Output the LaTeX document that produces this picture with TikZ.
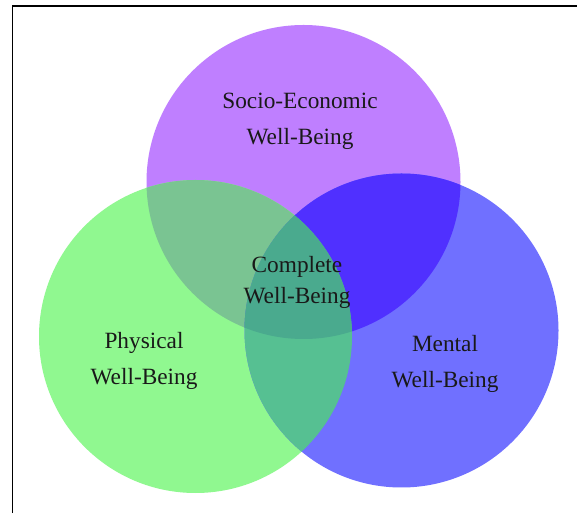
\documentclass[tikz,border=0pt]{standalone}
\usepackage{fontspec}
\setmainfont{Liberation Serif}
\definecolor{cpurple}{RGB}{191,127,255}
\definecolor{cgreen}{RGB}{144,248,144}
\definecolor{cblue}{RGB}{112,112,255}
\definecolor{cpg}{RGB}{122,196,146}
\definecolor{cpb}{RGB}{80,48,255}
\definecolor{cgb}{RGB}{86,192,146}
\definecolor{cpgb}{RGB}{74,170,142}
\tikzset{
  lbl/.style={align=center, font=\fontsize{23.3}{36}\selectfont, text=black!90},
  clbl/.style={align=center, font=\fontsize{23.3}{31}\selectfont, text=black!90},
}
\begin{document}
\begin{tikzpicture}[x=1pt,y=1pt]
\useasboundingbox (0,0) rectangle (577,513);
\fill[white] (0,0) rectangle (577,513);
\def\P{(303.5,331) circle (157)}
\def\G{(195.5,176.5) circle (156.5)}
\def\B{(401.5,182.5) circle (157)}
\fill[cpurple] \P;
\fill[cgreen] \G;
\fill[cblue] \B;
\begin{scope}\clip \P; \fill[cpg] \G; \end{scope}
\begin{scope}\clip \P; \fill[cpb] \B; \end{scope}
\begin{scope}\clip \G; \fill[cgb] \B; \end{scope}
\begin{scope}\clip \P; \clip \G; \fill[cpgb] \B; \end{scope}
\draw[line width=1.3pt] (12.5,0) -- (12.5,507) -- (577,507);
\node[lbl] (se) at (300,392) {Socio-Economic\\Well-Being};
\node[clbl] (cw) at (297,230.5) {Complete\\Well-Being};
\node[lbl] (pw) at (144,152.5) {Physical\\Well-Being};
\node[lbl] (mw) at (445,149.5) {Mental\\Well-Being};
\end{tikzpicture}
\end{document}
